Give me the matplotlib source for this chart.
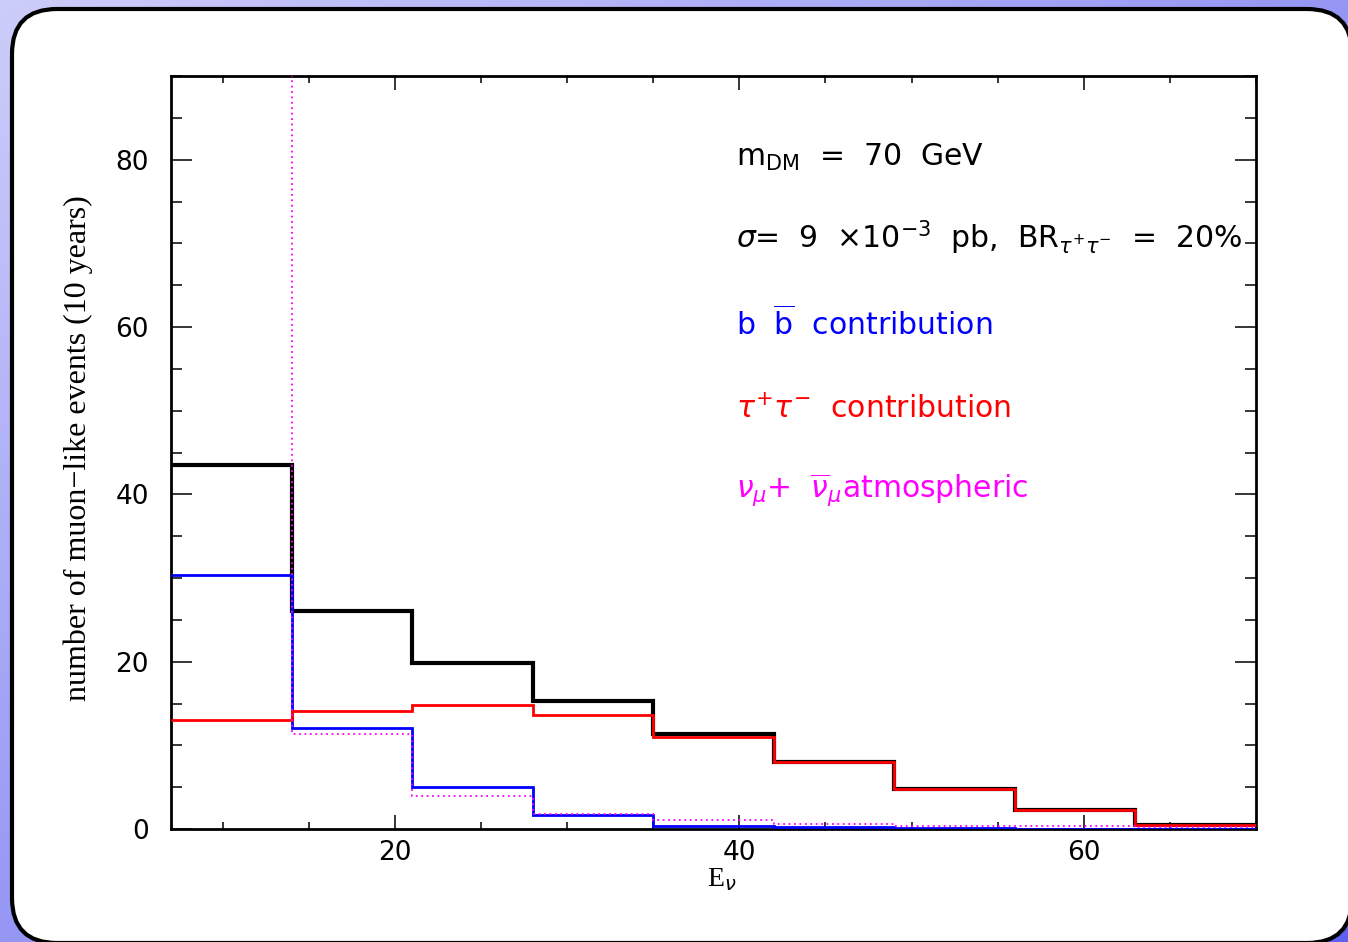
import matplotlib.pyplot as plt
import numpy as np
from matplotlib.patches import FancyBboxPatch
from matplotlib.ticker import MultipleLocator

# histogram bins (E_nu, GeV)
edges = [7, 14, 21, 28, 35, 42, 49, 56, 63, 70]
total = [43.5, 26.1, 19.9, 15.3, 11.3, 8.0, 4.8, 2.3, 0.5]
bbbar = [30.4, 12.1, 5.0, 1.7, 0.4, 0.2, 0.1, 0.05, 0.0]
tautau = [13.0, 14.1, 14.8, 13.6, 11.0, 8.0, 4.8, 2.3, 0.5]
atmos = [300.0, 11.3, 3.9, 1.8, 1.1, 0.6, 0.4, 0.3, 0.2]

W, H = 1348, 942
fig = plt.figure(figsize=(W/100, H/100), dpi=100)

# background: bluish gradient + rounded white frame
bg = fig.add_axes([0, 0, 1, 1], zorder=0)
yy, xx = np.mgrid[0:H:4, 0:W:4]
t = 0.5*xx/W + 0.5*yy/H
light = np.array([205, 205, 250])/255
dark = np.array([95, 95, 240])/255
img = light[None, None, :]*(1-t[..., None]) + dark[None, None, :]*t[..., None]
bg.imshow(img, extent=[0, W, H, 0], aspect='auto')
box = FancyBboxPatch((12, 9), 1340, 934, boxstyle="round,pad=0,rounding_size=45",
                     facecolor="white", edgecolor="black", linewidth=3)
bg.add_patch(box)
bg.set_xlim(0, W)
bg.set_ylim(H, 0)
bg.axis('off')

ax = fig.add_axes([171/W, 1-829/H, (1256-171)/W, (829-76)/H], zorder=1)
ax.stairs(atmos, edges, baseline=None, color="magenta", linestyle=(0, (1, 2)), linewidth=1.3, zorder=4)
ax.stairs(bbbar, edges, baseline=None, color="blue", linewidth=2.0, zorder=3)
ax.stairs(tautau, edges, baseline=None, color="red", linewidth=2.0, zorder=3)
ax.stairs(total, edges, baseline=None, color="black", linewidth=3.0, zorder=2)

ax.set_xlim(7, 70)
ax.set_ylim(0, 90)
ax.xaxis.set_major_locator(MultipleLocator(20))
ax.xaxis.set_minor_locator(MultipleLocator(5))
ax.yaxis.set_major_locator(MultipleLocator(20))
ax.yaxis.set_minor_locator(MultipleLocator(5))
ax.tick_params(axis='both', which='both', direction='in', top=True, right=True, width=1.1)
ax.tick_params(axis='x', which='major', length=10, pad=8, labelsize=19)
ax.tick_params(axis='x', which='minor', length=5)
ax.tick_params(axis='y', which='major', length=15, pad=16, labelsize=19)
ax.tick_params(axis='y', which='minor', length=8)
for s in ax.spines.values():
    s.set_linewidth(2)

ax.set_xlabel(r'E$_\nu$', family='Liberation Serif', fontsize=20)
ax.xaxis.set_label_coords((722-171)/1085, (829-866)/753)
fig.text(78/W, 1-448/H, 'number of muon\u2212like events (10 years)', rotation=90,
         ha='center', va='center', family='Liberation Serif', fontsize=23)

tx = 39.8
fs = 21.5
ax.text(tx, 79.3, r'm$_{\rm DM}$  =  70  GeV', fontsize=fs, color='black')
ax.text(tx, 69.4, r'$\sigma$=  9  $\times10^{-3}$  pb,  BR$_{\tau^{+}\tau^{-}}$  =  20%',
        fontsize=fs, color='black')
ax.text(tx, 59.0, r'b  $\overline{\rm b}$  contribution', fontsize=fs, color='blue')
ax.text(tx, 49.1, r'$\tau^{+}\tau^{-}$  contribution', fontsize=fs, color='red')
ax.text(tx, 39.6, r'$\nu_\mu$+  $\overline{\nu}_\mu$atmospheric', fontsize=fs, color='magenta')

plt.savefig("out.png", dpi=100)
